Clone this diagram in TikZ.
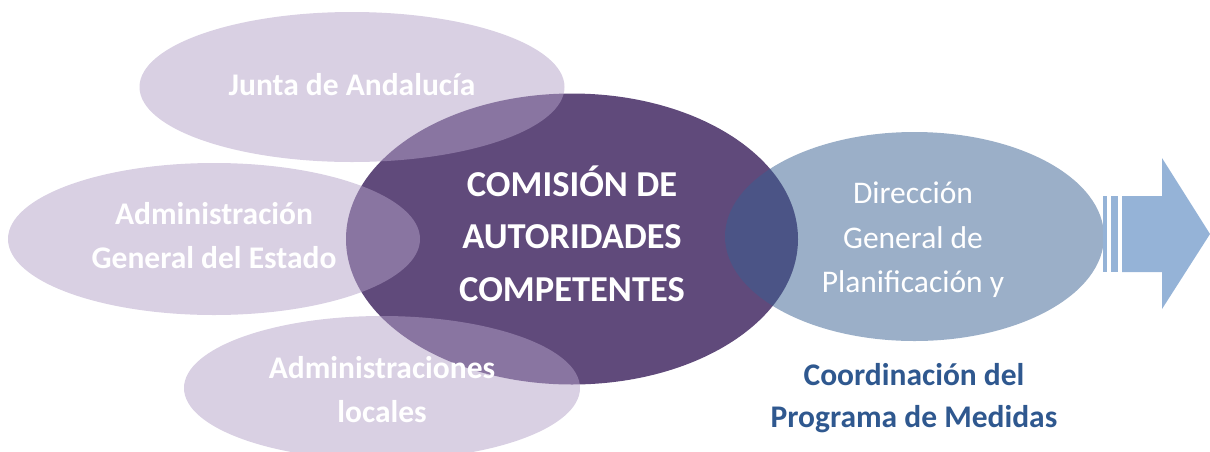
\documentclass[tikz,border=0pt]{standalone}
\usepackage{fontspec}
\setmainfont{Carlito}
\usetikzlibrary{shapes.geometric}
\definecolor{central}{RGB}{96,74,123}
\definecolor{lav}{RGB}{179,161,199}
\definecolor{blueel}{RGB}{55,95,145}
\definecolor{arrowblue}{RGB}{149,179,215}
\definecolor{darkblue}{RGB}{47,88,143}
\begin{document}
\begin{tikzpicture}[x=1pt,y=-1pt,
  ell/.style={ellipse, inner sep=0pt, draw=none},
  side/.style={ell, fill=lav, fill opacity=0.5},
  sidetext/.style={text=white, anchor=base, inner sep=0pt, font=\bfseries\fontsize{31.5}{36}\selectfont},
  centertext/.style={text=white, anchor=base, inner sep=0pt, font=\bfseries\fontsize{36.5}{42}\selectfont},
  bluetext/.style={text=white, anchor=base, inner sep=0pt, font=\fontsize{31.5}{36}\selectfont},
  captext/.style={text=darkblue, anchor=base, inner sep=0pt, font=\bfseries\fontsize{31.5}{36}\selectfont},
]
\useasboundingbox (0,0) rectangle (1210,451);
% central ellipse
\node[ell, fill=central, minimum width=452pt, minimum height=291pt] (cac) at (572,239) {};
% side ellipses
\node[side, minimum width=425pt, minimum height=150pt] (junta) at (352,87) {};
\node[side, minimum width=412pt, minimum height=152pt] (age) at (214,239) {};
\node[side, minimum width=396pt, minimum height=144pt] (loc) at (382,388) {};
% blue ellipse
\node[ell, fill=blueel, fill opacity=0.5, minimum width=379pt, minimum height=209pt] (dg) at (914.5,236.5) {};
% arrow
\fill[arrowblue] (1103,196) rectangle (1107,272);
\fill[arrowblue] (1111,196) rectangle (1118,272);
\fill[arrowblue] (1122,196) -- (1162,196) -- (1162,158) -- (1210,234) -- (1162,309) -- (1162,272) -- (1122,272) -- cycle;
% texts
\node[sidetext] (junta-t) at (352,95) {Junta de Andalucía};
\node[sidetext] (age-t1) at (214,224) {Administración};
\node[sidetext] (age-t2) at (214,268) {General del Estado};
\node[sidetext] (loc-t1) at (382,378) {Administraciones};
\node[sidetext] (loc-t2) at (382,422) {locales};
\node[centertext] (cac-t1) at (572,196) {COMISIÓN DE};
\node[centertext] (cac-t2) at (572,248) {AUTORIDADES};
\node[centertext] (cac-t3) at (572,301) {COMPETENTES};
\node[bluetext] (dg-t1) at (913,203) {Dirección};
\node[bluetext] (dg-t2) at (913,248) {General de};
\node[bluetext] (dg-t3) at (913,292) {Planificación y};
\node[captext] (cap-t1) at (914,385) {Coordinación del};
\node[captext] (cap-t2) at (914,427) {Programa de Medidas};
\end{tikzpicture}
\end{document}
